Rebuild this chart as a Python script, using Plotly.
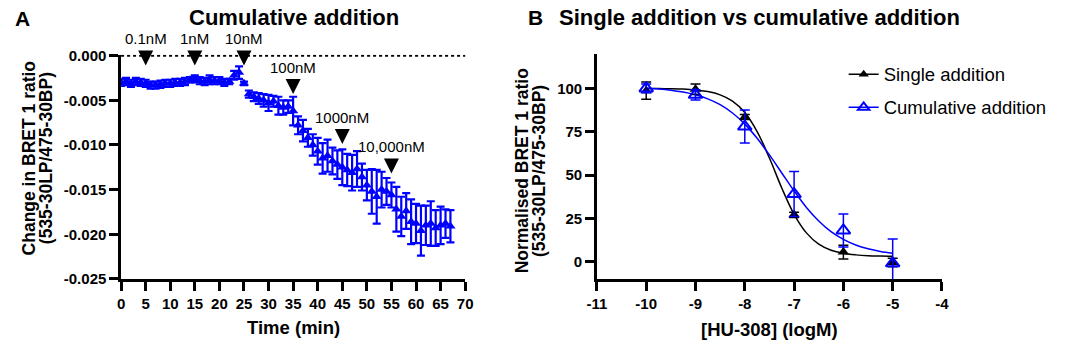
import plotly.graph_objects as go

# ---------------- Panel A data ----------------
time_min = [0, 1, 2, 3, 4, 5, 6, 7, 8, 9, 10, 11, 12, 13, 14, 15, 16, 17, 18, 19,
            20, 21, 22, 23, 24, 25, 26, 27, 28, 29, 30, 31, 32, 33, 34, 35, 36, 37, 38, 39,
            40, 41, 42, 43, 44, 45, 46, 47, 48, 49, 50, 51, 52, 53, 54, 55, 56, 57, 58, 59,
            60, 61, 62, 63, 64, 65, 66, 67]
change_mean = [-0.0030, -0.0029, -0.0031, -0.0029, -0.0030, -0.0031, -0.0033, -0.0033, -0.0032, -0.0031,
               -0.0031, -0.0030, -0.0030, -0.0029, -0.0027, -0.0026, -0.0028, -0.0029, -0.0027, -0.0028,
               -0.0028, -0.0030, -0.0029, -0.0022, -0.0019, -0.0031, -0.0043, -0.0046, -0.0048, -0.0050,
               -0.0053, -0.0051, -0.0056, -0.0058, -0.0057, -0.0062, -0.0078, -0.0084, -0.0092, -0.0100,
               -0.0107, -0.0115, -0.0112, -0.0118, -0.0122, -0.0125, -0.0128, -0.0131, -0.0127, -0.0136,
               -0.0145, -0.0152, -0.0158, -0.0150, -0.0152, -0.0156, -0.0172, -0.0180, -0.0174, -0.0186,
               -0.0188, -0.0196, -0.0190, -0.0188, -0.0193, -0.0190, -0.0188, -0.0191]
change_sem = [0.0004, 0.0004, 0.0004, 0.0004, 0.0004, 0.0004, 0.0004, 0.0004, 0.0004, 0.0004,
              0.0004, 0.0004, 0.0004, 0.0004, 0.0003, 0.0004, 0.0004, 0.0004, 0.0005, 0.0004,
              0.0004, 0.0004, 0.0003, 0.0005, 0.0007, 0.0002, 0.0004, 0.0005, 0.0006, 0.0007,
              0.0009, 0.0006, 0.0010, 0.0008, 0.0007, 0.0016, 0.0010, 0.0012, 0.0010, 0.0012,
              0.0015, 0.0017, 0.0018, 0.0015, 0.0016, 0.0020, 0.0018, 0.0020, 0.0020, 0.0015,
              0.0017, 0.0025, 0.0030, 0.0020, 0.0015, 0.0014, 0.0025, 0.0022, 0.0020, 0.0025,
              0.0022, 0.0028, 0.0022, 0.0025, 0.0020, 0.0021, 0.0016, 0.0018]

arrow_time = [5, 15, 25, 35, 45, 55]
arrow_tip = [-0.0011, -0.0011, -0.0011, -0.0043, -0.0099, -0.0132]
arrow_label = ["0.1nM", "1nM", "10nM", "100nM", "1000nM", "10,000nM"]

a_xticks = [0, 5, 10, 15, 20, 25, 30, 35, 40, 45, 50, 55, 60, 65, 70]
a_xticktext = ["0", "5", "10", "15", "20", "25", "30", "35", "40", "45", "50", "55", "60", "65", "70"]
a_yticks = [0.0, -0.005, -0.010, -0.015, -0.020, -0.025]
a_yticktext = ["0.000", "-0.005", "-0.010", "-0.015", "-0.020", "-0.025"]

# ---------------- Panel B data ----------------
log_conc = [-10, -9, -8, -7, -6, -5]
single_mean = [98.7, 99.5, 83.5, 27.0, 5.5, -0.5]
single_sem = [5.0, 3.0, 1.5, 1.5, 4.0, 2.5]
cumul_mean = [100.0, 96.3, 78.0, 39.0, 18.0, -1.0]
cumul_sem = [2.5, 3.0, 9.5, 13.0, 9.5, 14.0]

fit_x = [-10, -9.75, -9.5, -9.25, -9, -8.75, -8.5, -8.25, -8, -7.75, -7.5,
         -7.25, -7, -6.75, -6.5, -6.25, -6, -5.75, -5.5, -5.25, -5]
single_fit = [99.9, 99.9, 99.8, 99.6, 99.1, 98.2, 96.3, 92.7, 86.1, 75.1, 59.8,
              42.5, 27.3, 16.6, 10.1, 6.6, 4.8, 3.9, 3.4, 3.2, 3.1]
cumul_fit = [100.1, 99.7, 99.0, 97.9, 96.3, 94.0, 90.6, 85.8, 79.4, 71.2, 61.6,
             51.2, 40.8, 31.3, 23.5, 17.3, 12.8, 9.6, 7.4, 5.9, 4.9]

b_xticks = [-11, -10, -9, -8, -7, -6, -5, -4]
b_xticktext = ["-11", "-10", "-9", "-8", "-7", "-6", "-5", "-4"]
b_yticks = [0, 25, 50, 75, 100]

BLUE = "#0000FF"
FONT = "Liberation Sans, Arial, Helvetica, sans-serif"
W, H = 1065, 348


def px(x):
    return x / W


def py(y):
    return 1 - y / H


fig = go.Figure()

# Panel A
fig.add_trace(go.Scatter(
    x=time_min, y=change_mean, mode="markers",
    marker=dict(symbol="triangle-up", size=9, color=BLUE),
    error_y=dict(type="data", array=change_sem, color=BLUE, thickness=2.2, width=4),
    xaxis="x", yaxis="y", showlegend=False))

fig.add_trace(go.Scatter(
    x=arrow_time, y=arrow_tip, mode="markers",
    marker=dict(symbol="arrow-down", size=15, color="black", line=dict(width=0)),
    cliponaxis=False, xaxis="x", yaxis="y", showlegend=False, hoverinfo="skip"))

# Panel B
fig.add_trace(go.Scatter(
    x=fit_x, y=single_fit, mode="lines", line=dict(color="black", width=1.5, shape="spline"),
    xaxis="x2", yaxis="y2", showlegend=False, hoverinfo="skip"))
fig.add_trace(go.Scatter(
    x=fit_x, y=cumul_fit, mode="lines", line=dict(color=BLUE, width=1.5, shape="spline"),
    xaxis="x2", yaxis="y2", showlegend=False, hoverinfo="skip"))
fig.add_trace(go.Scatter(
    x=log_conc, y=single_mean, mode="markers",
    marker=dict(symbol="triangle-up", size=10, color="black"),
    error_y=dict(type="data", array=single_sem, color="black", thickness=1.5, width=5),
    xaxis="x2", yaxis="y2", showlegend=False))
fig.add_trace(go.Scatter(
    x=log_conc, y=cumul_mean, mode="markers",
    marker=dict(symbol="triangle-up-open", size=12, color=BLUE, line=dict(width=2, color=BLUE)),
    error_y=dict(type="data", array=cumul_sem, color=BLUE, thickness=1.5, width=5),
    xaxis="x2", yaxis="y2", showlegend=False))

# legend entries
fig.add_trace(go.Scatter(
    x=[None], y=[None], mode="lines+markers", name="Single addition", legendgroup="s",
    line=dict(color="black", width=1.5),
    marker=dict(symbol="triangle-up", size=9, color="black"), xaxis="x2", yaxis="y2"))
fig.add_trace(go.Scatter(
    x=[None], y=[None], mode="lines+markers", name="Cumulative addition", legendgroup="c",
    line=dict(color=BLUE, width=1.5),
    marker=dict(symbol="triangle-up-open", size=10, color=BLUE, line=dict(width=2, color=BLUE)),
    xaxis="x2", yaxis="y2"))

axis_common = dict(showline=True, linecolor="black", linewidth=2.5, ticks="outside",
                   ticklen=9, tickwidth=2.5, tickcolor="black", showgrid=False, zeroline=False,
                   tickfont=dict(family=FONT, size=15, color="black", weight="bold"))

fig.update_layout(
    width=W, height=H, margin=dict(l=0, r=0, t=0, b=0),
    paper_bgcolor="white", plot_bgcolor="white",
    font=dict(family=FONT, color="black"),
    xaxis=dict(domain=[px(113), px(463)], range=[0, 70], tickmode="array",
               tickvals=a_xticks, ticktext=a_xticktext, anchor="y", **axis_common),
    yaxis=dict(domain=[py(284), py(49)], range=[-0.025, 0.0001], tickmode="array",
               tickvals=a_yticks, ticktext=a_yticktext, anchor="x", **axis_common),
    xaxis2=dict(domain=[px(597), px(948)], range=[-11, -4], tickmode="array",
                tickvals=b_xticks, ticktext=b_xticktext, anchor="y2", **axis_common),
    yaxis2=dict(domain=[py(284), py(48)], range=[-10, 120], tickmode="array",
                tickvals=b_yticks, anchor="x2", **axis_common),
    legend=dict(x=px(848), y=py(50), xanchor="left", yanchor="top",
                font=dict(family=FONT, size=18.5, color="black"),
                bgcolor="rgba(0,0,0,0)", tracegroupgap=6, itemwidth=30),
    shapes=[dict(type="line", xref="x domain", yref="y", x0=0, x1=1, y0=0, y1=0,
                 line=dict(color="black", width=2, dash="dot"))],
)

ann = []
# arrow labels
for t, yv, lab in zip(arrow_time, arrow_tip, arrow_label):
    ann.append(dict(x=t, y=yv, xref="x", yref="y", text=lab, showarrow=False,
                    yanchor="middle", yshift=27, font=dict(family=FONT, size=15, color="black")))

bold = dict(family=FONT, color="black", weight="bold")
ann += [
    dict(x=px(13), y=py(11), text="A", font=dict(size=21, **bold)),
    dict(x=px(288.5), y=py(10), text="Cumulative addition", font=dict(size=22, **bold)),
    dict(x=px(535), y=py(10), text="B", font=dict(size=21, **bold)),
    dict(x=px(762), y=py(10), text="Single addition vs cumulative addition", font=dict(size=22, **bold)),
    dict(x=px(19), y=py(158), text="Change in BRET 1 ratio", textangle=-90, font=dict(size=17.5, **bold)),
    dict(x=px(36), y=py(157), text="(535-30LP/475-30BP)", textangle=-90, font=dict(size=17.5, **bold)),
    dict(x=px(521), y=py(171), text="Normalised BRET 1 ratio", textangle=-90, font=dict(size=17.5, **bold)),
    dict(x=px(538), y=py(171), text="(535-30LP/475-30BP)", textangle=-90, font=dict(size=17.5, **bold)),
    dict(x=px(288.5), y=py(335), text="Time (min)", font=dict(size=18.5, **bold)),
    dict(x=px(773), y=py(337), text="[HU-308] (logM)", font=dict(size=18.5, **bold)),
]
for a in ann[len(arrow_time):]:
    a.update(xref="paper", yref="paper", showarrow=False, xanchor="center", yanchor="middle")
fig.update_layout(annotations=ann)

fig.write_html("out.html", config={"displayModeBar": False},
               post_script="document.body.style.margin='0';document.body.style.overflow='hidden';")
